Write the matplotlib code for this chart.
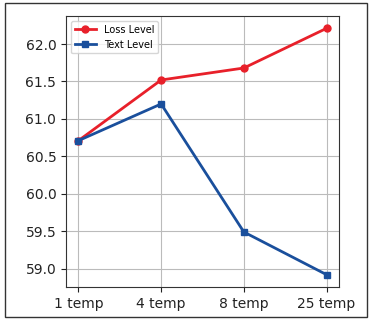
import matplotlib
matplotlib.use("Agg")
import matplotlib.pyplot as plt
from matplotlib.patches import Rectangle

categories = ["1 temp", "4 temp", "8 temp", "25 temp"]
loss_level = [60.71, 61.52, 61.68, 62.21]
text_level = [60.71, 61.20, 59.49, 58.92]

fig = plt.figure(figsize=(3.7, 3.2), dpi=100)
ax = fig.add_axes([66/370, 1-287/320, (339-66)/370, (287-16)/320])
x = list(range(len(categories)))
ax.plot(x, loss_level, color="#e8202a", marker="o", markersize=5, linewidth=2, label="Loss Level")
ax.plot(x, text_level, color="#1a4f9c", marker="s", markersize=5, linewidth=2, label="Text Level")
ax.set_xticks(x)
ax.set_xticklabels(categories)
ax.set_yticks([59.0, 59.5, 60.0, 60.5, 61.0, 61.5, 62.0])
ax.tick_params(labelsize=10, colors="#222222")
ax.grid(True, color="#bbbbbb", linewidth=0.8)
ax.set_axisbelow(True)
for s in ax.spines.values():
    s.set_color("#333333")
ax.legend(loc="upper left", fontsize=7, framealpha=0.8, handlelength=2.2)

fig.patches.append(Rectangle((5/370, 3/320), (367-5)/370, (317-3)/320, transform=fig.transFigure,
                             fill=False, edgecolor="#333333", linewidth=1))
fig.savefig("out.png", dpi=100)
